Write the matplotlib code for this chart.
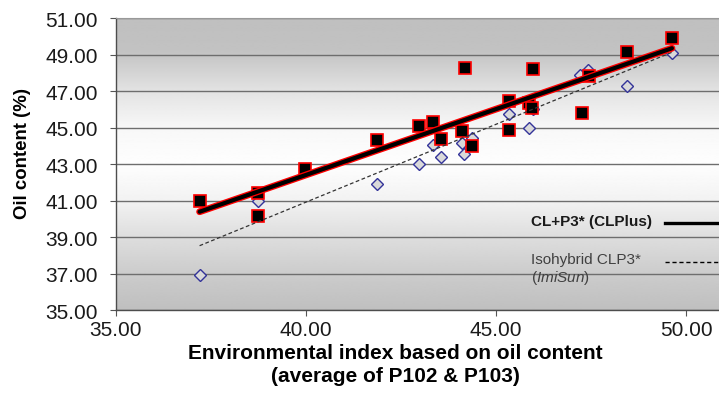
import numpy as np
import matplotlib
matplotlib.use("Agg")
import matplotlib.pyplot as plt
import matplotlib.patheffects as pe

plt.rcParams['font.family'] = ['Liberation Sans', 'DejaVu Sans']
plt.rcParams['mathtext.fontset'] = 'custom'
plt.rcParams['mathtext.rm'] = 'Liberation Sans'
plt.rcParams['mathtext.it'] = 'Liberation Sans:italic'

# environmental index (x) and oil content (y) per hybrid
clplus_x = [37.20, 38.73, 38.73, 39.98, 41.88, 42.98, 43.33, 43.54, 44.10, 44.38,
            44.18, 45.34, 45.34, 45.86, 45.95, 45.98, 47.25, 47.45, 48.45, 49.63]
clplus_y = [41.00, 41.43, 40.17, 42.74, 44.33, 45.08, 45.33, 44.37, 44.81, 43.99,
            48.25, 44.90, 46.45, 46.38, 46.07, 48.22, 45.79, 47.82, 49.17, 49.90]

imisun_x = [37.20, 38.73, 41.88, 42.98, 43.33, 43.54, 44.10, 44.17, 44.38, 45.34,
            45.86, 45.98, 47.22, 47.43, 48.45, 49.63]
imisun_y = [36.92, 41.00, 41.92, 43.00, 44.06, 43.40, 44.15, 43.55, 44.44, 45.74,
            44.97, 46.03, 47.88, 48.15, 47.31, 49.08]

# linear trend lines (end points)
trend_x = [37.20, 49.63]
clplus_trend = [40.40, 49.36]
imisun_trend = [38.54, 49.14]

x_ticks = [35, 40, 45, 50]
y_ticks = [35, 37, 39, 41, 43, 45, 47, 49, 51]

fig = plt.figure(figsize=(7.19, 4.10), dpi=100)
W, H = 719, 410
left, right, top, bottom = 116, 719, 19.3, 311.3
ax = fig.add_axes([left / W, 1 - bottom / H, (right - left) / W, (bottom - top) / H])

xmax = 35 + (right - left) / 38.0
ax.set_xlim(35, xmax)
ax.set_ylim(35, 51)

# gray - white - gray background gradient
stops_y = [35, 37, 39, 41, 43, 45, 47, 49.3, 51]
stops_v = [0.75, 0.80, 0.87, 0.95, 0.995, 0.97, 0.89, 0.76, 0.75]
yy = np.linspace(35, 51, 400)
shade = np.interp(yy, stops_y, stops_v)[::-1].reshape(-1, 1)
ax.imshow(shade, cmap='gray', vmin=0, vmax=1, aspect='auto',
          extent=[35, xmax, 35, 51], zorder=0, interpolation='bilinear')

ax.set_axisbelow(True)
ax.yaxis.grid(True, color='#6e6e6e', lw=1.0)
ax.set_yticks(y_ticks)
ax.set_xticks(x_ticks)
ax.set_yticklabels([f"{v:.2f}" for v in y_ticks])
ax.set_xticklabels([f"{v:.2f}" for v in x_ticks])
ax.tick_params(axis='both', labelsize=15, colors='#555555', labelcolor='#1a1a1a',
               direction='out', length=4, width=0.8)
ax.tick_params(axis='y', pad=9)
ax.tick_params(axis='x', pad=3)

for side in ['left', 'bottom']:
    ax.spines[side].set_color('#4d4d4d')
    ax.spines[side].set_linewidth(1.0)
ax.spines['right'].set_visible(False)
ax.spines['top'].set_color('#999999')

# scatter points
ax.plot(imisun_x, imisun_y, linestyle='none', marker='D', ms=5.8,
        mfc='#d9d9d9', mec='#333399', mew=1.0, zorder=3, clip_on=False)
ax.plot(clplus_x, clplus_y, linestyle='none', marker='s', ms=8.3,
        mfc='black', mec='red', mew=1.2, zorder=4, clip_on=False)

# trend lines
ax.plot(trend_x, imisun_trend, color='#333333', lw=0.9, dashes=(3, 2), zorder=5)
ax.plot(trend_x, clplus_trend, color='black', lw=3.0, zorder=6,
        solid_capstyle='round',
        path_effects=[pe.Stroke(linewidth=4.9, foreground='red'), pe.Normal()])

# legend drawn inside the plot area
ax.text(0.688, 0.306, "CL+P3* (CLPlus)", transform=ax.transAxes, fontsize=11,
        fontweight='bold', color='#1a1a1a', ha='left', va='center')
ax.plot([0.910, 1.0], [0.298, 0.298], transform=ax.transAxes, color='black',
        lw=2.4, clip_on=False, zorder=7)
ax.text(0.688, 0.140, "Isohybrid CLP3*\n(${\\it ImiSun}$)", transform=ax.transAxes,
        fontsize=11, color='#404040', ha='left', va='center', linespacing=1.15)
ax.plot([0.910, 1.0], [0.164, 0.164], transform=ax.transAxes, color='black',
        lw=1.0, dashes=(3, 2), clip_on=False, zorder=7)

# axis titles
fig.text(23 / W, 1 - 154 / H, "Oil content (%)", rotation=90, ha='center',
         va='center', fontsize=13.4, fontweight='bold', color='black')
fig.text(395.5 / W, 1 - 365 / H,
         "Environmental index based on oil content\n(average of P102 & P103)",
         ha='center', va='center', fontsize=15, fontweight='bold',
         color='black', linespacing=1.3)

fig.savefig("out.png", dpi=100)
